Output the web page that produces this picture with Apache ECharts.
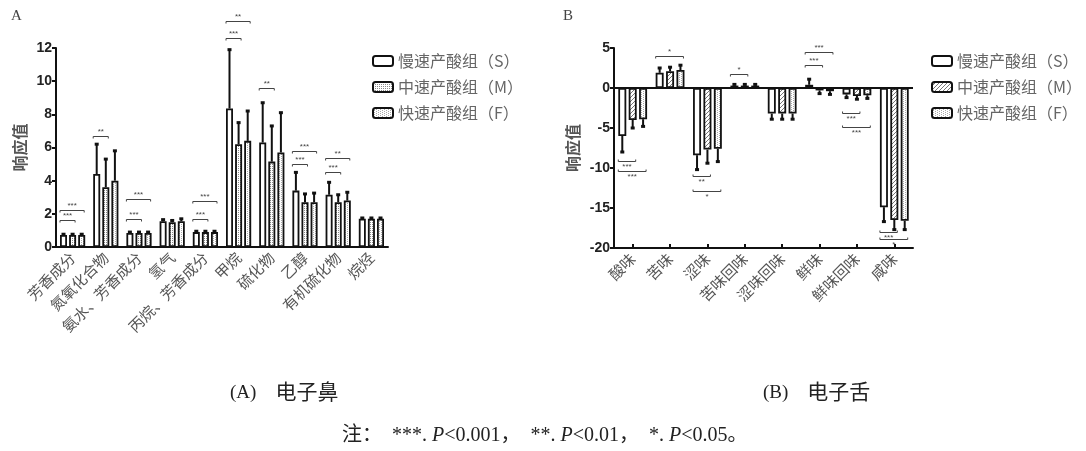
<!DOCTYPE html>
<html><head><meta charset="utf-8">
<script src="https://cdn.jsdelivr.net/npm/echarts/dist/echarts.min.js"></script>
<style>html,body{margin:0;padding:0;background:#fff}#c{width:1086px;height:451px}</style>
</head><body><div id="c"></div>
<script>
// ---------- Data: (A) electronic nose ----------
const noseCats = ['芳香成分','氮氧化合物','氨水、芳香成分','氢气','丙烷、芳香成分','甲烷','硫化物','乙醇','有机硫化物','烷烃'];
const noseS   = [0.72, 4.4, 0.85, 1.55, 0.9, 8.35, 6.3, 3.4, 3.15, 1.7];
const noseSsd = [0.05, 1.8, 0.05, 0.1, 0.05, 3.55, 2.4, 1.1, 0.75, 0.05];
const noseM   = [0.72, 3.6, 0.85, 1.5, 0.9, 6.2, 5.15, 2.7, 2.7, 1.7];
const noseMsd = [0.05, 1.7, 0.05, 0.1, 0.05, 1.3, 2.15, 0.5, 0.45, 0.05];
const noseF   = [0.72, 4.0, 0.85, 1.55, 0.9, 6.4, 5.7, 2.7, 2.8, 1.7];
const noseFsd = [0.05, 1.8, 0.05, 0.15, 0.05, 1.8, 2.4, 0.55, 0.5, 0.05];
const noseTicks = [0, 2, 4, 6, 8, 10, 12];
// significance brackets: [category index, from bar, to bar, level, label]
const noseBrackets = [
  [0,0,1,1.64,'***'],[0,0,2,2.24,'***'],
  [1,0,1,6.7,'**'],
  [2,0,1,1.7,'***'],[2,0,2,2.9,'***'],
  [4,0,1,1.7,'***'],[4,0,2,2.8,'***'],
  [5,0,1,12.6,'***'],[5,0,2,13.6,'**'],
  [6,0,1,9.6,'**'],
  [7,0,1,5.0,'***'],[7,0,2,5.8,'***'],
  [8,0,1,4.5,'***'],[8,0,2,5.35,'**']
];
// ---------- Data: (B) electronic tongue ----------
const tongueCats = ['酸味','苦味','涩味','苦味回味','涩味回味','鲜味','鲜味回味','咸味'];
const tongueS   = [-6.0, 1.9, -8.4, 0.3, -3.2, 0.4, -0.8, -14.9];
const tongueSsd = [2.0, 0.6, 1.8, 0.15, 0.7, 0.7, 0.4, 1.8];
const tongueM   = [-4.0, 2.1, -7.7, 0.3, -3.2, -0.3, -1.0, -16.5];
const tongueMsd = [1.0, 0.5, 1.7, 0.15, 0.7, 0.4, 0.4, 1.2];
const tongueF   = [-3.9, 2.25, -7.6, 0.3, -3.2, -0.4, -0.9, -16.6];
const tongueFsd = [0.9, 0.6, 1.6, 0.15, 0.7, 0.4, 0.4, 1.1];
const tongueTicks = [-20, -15, -10, -5, 0, 5];
const tongueBrackets = [
  [0,0,1,-9.1,'***'],[0,0,2,-10.4,'***'],
  [1,0,2,3.95,'*'],
  [2,0,1,-11.05,'**'],[2,0,2,-12.85,'*'],
  [3,0,1,1.8,'*'],
  [5,0,1,2.9,'***'],[5,0,2,4.5,'***'],
  [6,0,1,-3.15,'***'],[6,0,2,-4.9,'***'],
  [7,0,1,-18.05,'***'],[7,0,2,-18.9,'*']
];
const groupNames = ['慢速产酸组（S）','中速产酸组（M）','快速产酸组（F）'];

// ---------- Styles ----------
function pattern(kind){
  const c = document.createElement('canvas');
  c.width = 4; c.height = 4;
  const g = c.getContext('2d');
  g.fillStyle = '#fff'; g.fillRect(0,0,4,4);
  if (kind === 'dots') { g.fillStyle = '#8a8a8a'; g.fillRect(0,0,1,1); g.fillRect(2,2,1,1); g.fillRect(2,0,1,1); g.fillRect(0,2,1,1); }
  if (kind === 'vdots') { g.fillStyle = '#aaa'; g.fillRect(1,0,1,1); g.fillRect(1,2,1,1); g.fillRect(3,1,1,1); g.fillRect(3,3,1,1); }
  if (kind === 'diag') { g.fillStyle = '#777'; g.fillRect(3,0,1,1); g.fillRect(2,1,1,1); g.fillRect(1,2,1,1); g.fillRect(0,3,1,1); }
  return {image: c, repeat: 'repeat'};
}
const fillsA = ['#ffffff', pattern('dots'), pattern('vdots')];
const fillsB = ['#ffffff', pattern('diag'), pattern('vdots')];
const CJK = '"Noto Sans CJK SC", sans-serif';
const SERIF = '"Liberation Serif", "Noto Sans CJK SC", serif';
const BWA = 7, GAPA = 0.3, BWB = 8, GAPB = 0.3;

function errRender(pitch, cap){
  return function(params, api){
    const cat = api.value(0), k = api.value(1), v = api.value(2), sd = api.value(3);
    const b = api.coord([cat, v]);
    const e = api.coord([cat, v + (v < 0 ? -sd : sd)]);
    const x = b[0] + (k - 1) * pitch;
    return {type:'group', children:[
      {type:'line', shape:{x1:x, y1:b[1], x2:x, y2:e[1]}, style:{stroke:'#111', lineWidth:2}},
      {type:'line', shape:{x1:x-cap, y1:e[1], x2:x+cap, y2:e[1]}, style:{stroke:'#111', lineWidth:3}}
    ]};
  };
}
function brRender(list, pitch, bw){
  return function(params, api){
    const br = list[params.dataIndex];
    const c = api.coord([api.value(0), api.value(1)]);
    const x1 = c[0] + (br[1] - 1) * pitch - bw / 2;
    const x2 = c[0] + (br[2] - 1) * pitch + bw / 2 - 1;
    const up = br[3] >= 0;
    const t = up ? 2 : -2;
    const y = Math.round(c[1]) + 0.5;
    return {type:'group', children:[
      {type:'polyline', shape:{points:[[x1,y+t],[x1,y],[x2,y],[x2,y+t]]}, style:{stroke:'#444', lineWidth:1, fill:null}},
      {type:'text', style:{text:br[4], x:(x1+x2)/2, y: up ? y - 1 : y + 1, align:'center', verticalAlign: up ? 'bottom' : 'top', fontSize:8, fill:'#444', fontFamily:'"Liberation Sans"'}}
    ]};
  };
}
function errData(vals, sds){
  const out = [];
  vals.forEach((arr, k) => arr.forEach((v, i) => out.push([i, k, v, sds[k][i]])));
  return out;
}

const axisCommonY = {
  type:'value', splitLine:{show:false},
  axisLine:{show:true, lineStyle:{color:'#111', width:2}},
  axisTick:{show:true, length:4, lineStyle:{color:'#111', width:2}},
  axisLabel:{color:'#222', fontSize:14, fontWeight:'bold', fontFamily:'"Liberation Sans"', margin:4},
  nameLocation:'middle', nameRotate:90,
  nameTextStyle:{color:'#555', fontSize:16, fontFamily:CJK, fontWeight:'bold'}
};
const catLabel = {rotate:45, interval:0, color:'#555', fontSize:15, fontFamily:CJK, margin:8};

const series = [];
[noseS, noseM, noseF].forEach((d, k) => series.push({
  type:'bar', name:groupNames[k], xAxisIndex:0, yAxisIndex:0, data:d,
  barWidth:BWA, barGap:(GAPA*100)+'%',
  itemStyle:{color:fillsA[k], borderColor:'#111', borderWidth:1.8},
  emphasis:{disabled:true}, z:3
}));
[tongueS, tongueM, tongueF].forEach((d, k) => {
  const s = {
    type:'bar', name:groupNames[k], xAxisIndex:1, yAxisIndex:1, data:d,
    barWidth:BWB, barGap:(GAPB*100)+'%',
    itemStyle:{color:fillsB[k], borderColor:'#111', borderWidth:1.8},
    emphasis:{disabled:true}, z:3
  };
  if (k === 0) s.markLine = {silent:true, symbol:['none','none'], label:{show:false},
    lineStyle:{color:'#111', width:2, type:'solid'}, data:[{yAxis:0}]};
  series.push(s);
});
series.push({type:'custom', xAxisIndex:0, yAxisIndex:0, z:4, silent:true,
  renderItem: errRender(BWA*(1+GAPA), 2),
  encode:{x:0, y:2}, data: errData([noseS,noseM,noseF],[noseSsd,noseMsd,noseFsd])});
series.push({type:'custom', xAxisIndex:1, yAxisIndex:1, z:4, silent:true,
  renderItem: errRender(BWB*(1+GAPB), 2),
  encode:{x:0, y:2}, data: errData([tongueS,tongueM,tongueF],[tongueSsd,tongueMsd,tongueFsd])});
series.push({type:'custom', xAxisIndex:0, yAxisIndex:0, z:4, silent:true, clip:false,
  renderItem: brRender(noseBrackets, BWA*(1+GAPA), BWA),
  encode:{x:0, y:1}, data: noseBrackets.map(b => [b[0], b[3]])});
series.push({type:'custom', xAxisIndex:1, yAxisIndex:1, z:4, silent:true, clip:false,
  renderItem: brRender(tongueBrackets, BWB*(1+GAPB), BWB),
  encode:{x:0, y:1}, data: tongueBrackets.map(b => [b[0], b[3]])});

function legendFor(left, fills){
  return {
    left:left, top:48, orient:'vertical', itemWidth:20, itemHeight:10, itemGap:10,
    icon:'roundRect', selectedMode:false,
    textStyle:{fontSize:16, color:'#666', fontFamily:CJK},
    data: groupNames.map((n, k) => ({name:n, itemStyle:{color:fills[k], borderColor:'#111', borderWidth:2}}))
  };
}

const capRich = {
  l:{fontSize:19, fill:'#222', fontFamily:SERIF},
  c:{fontSize:21, fill:'#222', fontFamily:SERIF},
  i:{fontStyle:'italic', fontSize:20, fill:'#222', fontFamily:SERIF}
};
const option = {
  animation:false,
  backgroundColor:'#fff',
  legend:[legendFor(367, fillsA), legendFor(926, fillsB)],
  grid:[
    {left:56, top:48, width:332, height:199, containLabel:false},
    {left:614, top:48, width:299, height:200, containLabel:false}
  ],
  xAxis:[
    {type:'category', gridIndex:0, data:noseCats,
     axisLine:{lineStyle:{color:'#111', width:2}}, axisTick:{show:false}, axisLabel:catLabel},
    {type:'category', gridIndex:1, data:tongueCats,
     axisLine:{onZero:false, lineStyle:{color:'#111', width:2}},
     axisTick:{show:true, inside:true, alignWithLabel:true, length:4, lineStyle:{color:'#111', width:2}},
     axisLabel:catLabel}
  ],
  yAxis:[
    Object.assign({}, axisCommonY, {gridIndex:0, min:noseTicks[0], max:noseTicks[noseTicks.length-1], interval:2, name:'响应值', nameGap:28}),
    Object.assign({}, axisCommonY, {gridIndex:1, min:tongueTicks[0], max:tongueTicks[tongueTicks.length-1], interval:5, name:'响应值', nameGap:33})
  ],
  graphic:[
    {type:'text', left:11, top:9, style:{text:'A', fontSize:15, fill:'#444', fontFamily:SERIF}},
    {type:'text', left:563, top:9, style:{text:'B', fontSize:15, fill:'#444', fontFamily:SERIF}},
    {type:'text', left:230, top:383, style:{text:'{l|(A)    }{c|电子鼻}', rich:capRich}},
    {type:'text', left:763, top:383, style:{text:'{l|(B)    }{c|电子舌}', rich:capRich}},
    {type:'text', left:342, top:426, style:{text:'注：  ***. {i|P}<0.001，  **. {i|P}<0.01，  *. {i|P}<0.05。', fontSize:20, fill:'#222', fontFamily:SERIF,
      rich:capRich}}
  ],
  series:series
};
const chart = echarts.init(document.getElementById('c'));
chart.setOption(option);
</script>
</body></html>
